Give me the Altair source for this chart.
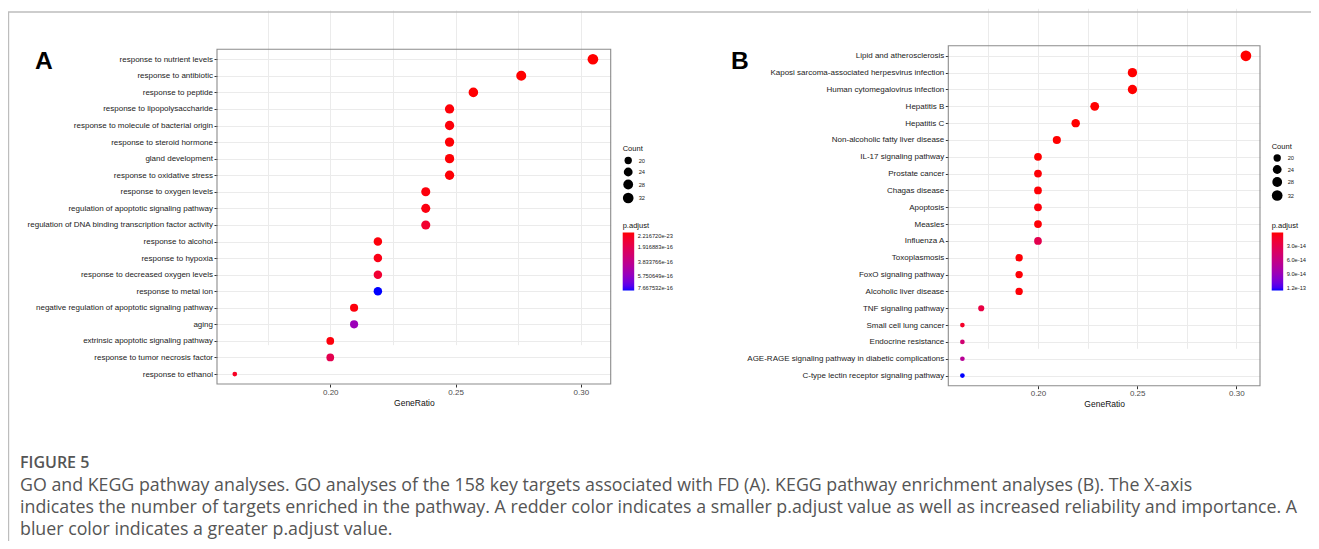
import altair as alt
import pandas as pd

FONT = "Liberation Sans"
CAP_FONT = "Open Sans"

# ---------------- data ----------------
go_terms = [
    "response to nutrient levels", "response to antibiotic", "response to peptide",
    "response to lipopolysaccharide", "response to molecule of bacterial origin",
    "response to steroid hormone", "gland development", "response to oxidative stress",
    "response to oxygen levels", "regulation of apoptotic signaling pathway",
    "regulation of DNA binding transcription factor activity", "response to alcohol",
    "response to hypoxia", "response to decreased oxygen levels", "response to metal ion",
    "negative regulation of apoptotic signaling pathway", "aging",
    "extrinsic apoptotic signaling pathway", "response to tumor necrosis factor",
    "response to ethanol",
]
go_ratio = [0.3048, 0.2762, 0.2571, 0.2476, 0.2476, 0.2476, 0.2476, 0.2476, 0.2381, 0.2381,
            0.2381, 0.2190, 0.2190, 0.2190, 0.2190, 0.2095, 0.2095, 0.2000, 0.2000, 0.1619]
go_count = [32, 29, 27, 26, 26, 26, 26, 26, 25, 25, 25, 23, 23, 23, 23, 22, 22, 21, 21, 17]
go_padj = [2.21672e-23, 1.0e-20, 2.0e-18, 1.0e-17, 1.2e-17, 6.0e-18, 5.0e-18, 6.0e-18, 1.5e-17,
           2.0e-17, 9.0e-17, 1.2e-17, 3.0e-17, 1.0e-16, 7.667532e-16, 1.5e-17, 5.4e-16,
           1.5e-17, 1.9e-16, 6.0e-17]
go_padj_ticks = [2.21672e-23, 1.916883e-16, 3.833766e-16, 5.750649e-16, 7.667532e-16]

kegg_terms = [
    "Lipid and atherosclerosis", "Kaposi sarcoma-associated herpesvirus infection",
    "Human cytomegalovirus infection", "Hepatitis B", "Hepatitis C",
    "Non-alcoholic fatty liver disease", "IL-17 signaling pathway", "Prostate cancer",
    "Chagas disease", "Apoptosis", "Measles", "Influenza A", "Toxoplasmosis",
    "FoxO signaling pathway", "Alcoholic liver disease", "TNF signaling pathway",
    "Small cell lung cancer", "Endocrine resistance",
    "AGE-RAGE signaling pathway in diabetic complications",
    "C-type lectin receptor signaling pathway",
]
kegg_ratio = [0.3048, 0.2476, 0.2476, 0.2286, 0.2190, 0.2095, 0.2000, 0.2000, 0.2000, 0.2000,
              0.2000, 0.2000, 0.1905, 0.1905, 0.1905, 0.1714, 0.1619, 0.1619, 0.1619, 0.1619]
kegg_count = [32, 26, 26, 24, 23, 22, 21, 21, 21, 21, 21, 21, 20, 20, 20, 18, 17, 17, 17, 17]
kegg_padj = [3.0e-20, 1.0e-17, 2.0e-17, 1.0e-17, 3.0e-17, 2.0e-17, 4.0e-17, 1.5e-15, 1.0e-15,
             2.0e-15, 1.5e-15, 3.1e-14, 1.0e-15, 1.5e-15, 1.5e-15, 2.5e-14, 1.2e-14, 5.0e-14,
             7.0e-14, 1.26e-13]
kegg_padj_ticks = [3.0e-14, 6.0e-14, 9.0e-14, 1.2e-13]

x_grid_values = [0.175, 0.2, 0.225, 0.25, 0.275, 0.3]
count_ticks = [20, 24, 28, 32]

caption_title = "FIGURE 5"
caption_lines = [
    "GO and KEGG pathway analyses. GO analyses of the 158 key targets associated with FD (A). KEGG pathway enrichment analyses (B). The X-axis",
    "indicates the number of targets enriched in the pathway. A redder color indicates a smaller p.adjust value as well as increased reliability and importance. A",
    "bluer color indicates a greater p.adjust value.",
]

# ---------------- layout (chart coords; page = chart + 8) ----------------
W, H = 1303, 378
PAD_BOTTOM = 155
XDOM = [0.1548, 0.3119]
MAJOR = "abs(datum.value*20 - round(datum.value*20)) < 0.001"


def panel(terms, ratio, count, padj, padj_ticks, padj_fmt, x0, x1, y0, y1, lx, cy, py):
    df = pd.DataFrame({"term": terms, "GeneRatio": ratio, "Count": count, "padj": padj})
    pmin, pmax = min(padj), max(padj)
    return alt.Chart(df).mark_circle(opacity=1, strokeWidth=0).encode(
        x=alt.X(
            "GeneRatio:Q",
            scale=alt.Scale(domain=XDOM, range=[x0, x1], nice=False, zero=False),
            axis=alt.Axis(
                orient="bottom", offset=y1 - H, values=x_grid_values,
                labelExpr=f"({MAJOR}) ? format(datum.value, '.2f') : ''",
                labelOverlap=False, labelFlush=False,
                grid=True, gridColor="#EBEBEB", gridWidth=1, domain=False,
                tickColor={"condition": {"test": MAJOR, "value": "#333333"}, "value": "transparent"},
                tickSize=3, tickWidth=1,
                labelFont=FONT, labelFontSize=8, labelColor="#4D4D4D", labelPadding=1,
                title="GeneRatio", titleFont=FONT, titleFontSize=8.5, titleFontWeight="normal",
                titleColor="#111111", titlePadding=2,
            ),
        ),
        y=alt.Y(
            "term:N", sort=terms,
            scale=alt.Scale(type="point", range=[y0, y1], padding=0.6),
            axis=alt.Axis(
                orient="left", offset=-x0, domain=False, grid=True, gridColor="#EBEBEB",
                ticks=True, tickSize=3, tickColor="#333333",
                labelFont=FONT, labelFontSize=8, labelColor="#222222", labelPadding=1.5,
                labelLimit=400, title=None,
            ),
        ),
        size=alt.Size(
            "Count:Q",
            scale=alt.Scale(domain=[17, 18, 20, 24, 32], range=[22, 38, 54, 78, 114]),
            legend=alt.Legend(
                orient="none", legendX=lx, legendY=cy, title="Count", values=count_ticks,
                symbolType="circle", symbolFillColor="black", symbolStrokeColor="black",
                symbolStrokeWidth=0, symbolOpacity=1, labelFont=FONT, labelFontSize=5.7,
                labelColor="#222222", titleFont=FONT, titleFontSize=7.5, titleFontWeight="normal",
                titleColor="#111111", titlePadding=4, rowPadding=3, labelOffset=5,
            ),
        ),
        color=alt.Color(
            "padj:Q",
            scale=alt.Scale(domain=[pmax, pmin], range=["#0000FF", "#FF0000"],
                            interpolate="lab", nice=False, zero=False),
            legend=alt.Legend(
                orient="none", legendX=lx, legendY=py, title="p.adjust", values=padj_ticks,
                format=padj_fmt, direction="vertical", gradientLength=58, gradientThickness=11.5,
                gradientStrokeWidth=0, labelFont=FONT, labelFontSize=5.7, labelColor="#222222",
                labelOffset=3.5, titleFont=FONT, titleFontSize=7.5, titleFontWeight="normal",
                titleColor="#111111", titlePadding=3,
            ),
        ),
    )


panel_a = panel(go_terms, go_ratio, go_count, go_padj, go_padj_ticks, ".6e",
                209, 602.7, 41.3, 376, 614.7, 137, 214)
panel_b = panel(kegg_terms, kegg_ratio, kegg_count, kegg_padj, kegg_padj_ticks, ".1e",
                940.3, 1252, 37.7, 377.7, 1263.7, 134.5, 214)

one = pd.DataFrame({"k": [0]})

border_a = alt.Chart(one).mark_rect(fillOpacity=0, stroke="#8C8C8C", strokeWidth=1.1).encode(
    x=alt.value(209), x2=alt.value(602.7), y=alt.value(41.3), y2=alt.value(376))
border_b = alt.Chart(one).mark_rect(fillOpacity=0, stroke="#8C8C8C", strokeWidth=1.1).encode(
    x=alt.value(940.3), x2=alt.value(1252), y=alt.value(37.7), y2=alt.value(377.7))

label_a = alt.Chart(one).mark_text(text="A", font=FONT, fontSize=24.6, fontWeight="bold",
                                   align="left", baseline="alphabetic", color="black").encode(
    x=alt.value(27), y=alt.value(61.3))
label_b = alt.Chart(one).mark_text(text="B", font=FONT, fontSize=24.6, fontWeight="bold",
                                   align="left", baseline="alphabetic", color="black").encode(
    x=alt.value(723), y=alt.value(61.3))

top_line = alt.Chart(one).mark_rule(color="#BDBDBD", strokeWidth=1.5).encode(
    x=alt.value(0), x2=alt.value(W), y=alt.value(4))
left_line = alt.Chart(one).mark_rule(color="#BDBDBD", strokeWidth=1.2).encode(
    x=alt.value(0.6), y=alt.value(4), y2=alt.value(H + PAD_BOTTOM))

cap_title = alt.Chart(one).mark_text(text=caption_title, font=CAP_FONT, fontSize=16,
                                     fontWeight=600, align="left", baseline="middle",
                                     color="#555555").encode(x=alt.value(12), y=alt.value(455))
cap_layers = []
for i, line in enumerate(caption_lines):
    cap_layers.append(
        alt.Chart(one).mark_text(text=line, font=CAP_FONT, fontSize=17.8, align="left",
                                 baseline="middle", color="#555555").encode(
            x=alt.value(12), y=alt.value(478 + 22 * i)))

chart = alt.layer(
    top_line, left_line, border_a, border_b, panel_a, panel_b, label_a, label_b,
    cap_title, *cap_layers,
).resolve_scale(
    x="independent", y="independent", color="independent", size="independent"
).properties(
    width=W, height=H,
    autosize=alt.AutoSizeParams(type="none"),
    padding={"left": 0, "right": 0, "top": 0, "bottom": PAD_BOTTOM},
).configure_view(stroke=None)

chart.save("out.html", embed_options={"renderer": "svg", "actions": False})
